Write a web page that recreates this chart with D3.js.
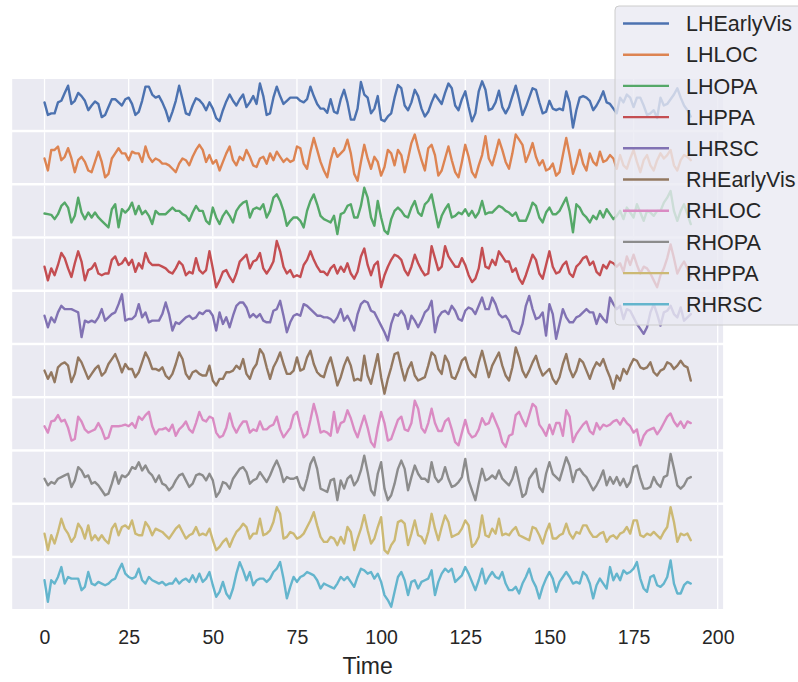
<!DOCTYPE html>
<html>
<head>
<meta charset="utf-8">
<script src="https://cdn.jsdelivr.net/npm/d3@7"></script>
<style>
  body { margin: 0; background: #fff; }
  svg text { font-family: "Liberation Sans", Arial, sans-serif; fill: #262626; }
</style>
</head>
<body>
<svg id="chart" width="798" height="682"></svg>
<script>
// region names, in plotting order
const regions = ['LHEarlyVis', 'LHLOC', 'LHOPA', 'LHPPA', 'LHRSC',
  'RHEarlyVis', 'RHLOC', 'RHOPA', 'RHPPA', 'RHRSC'];

const xTicks = [0, 25, 50, 75, 100, 125, 150, 175, 200];

// signal levels (arbitrary units, 193 time points)
const LHEarlyVis = [85,45,50,50,85,90,115,138,80,90,115,105,90,60,75,88,80,38,45,70,95,95,85,75,95,100,80,45,55,90,135,135,110,100,105,85,60,25,55,90,138,95,50,45,75,98,92,80,
  60,85,65,35,25,60,88,110,90,75,95,110,70,85,105,80,145,105,45,50,100,135,105,80,90,100,100,100,90,85,95,135,105,80,65,65,52,95,55,50,95,125,85,30,30,65,150,
  110,
  100,50,65,105,30,25,40,50,100,140,130,75,60,85,125,105,65,40,55,85,110,95,80,115,145,130,75,60,95,120,70,25,50,120,152,125,60,65,85,122,70,50,70,105,138,95,45,70,100,130,
  125,85,50,55,90,65,60,65,60,120,85,5,60,100,105,100,90,60,75,95,120,85,80,65,50,100,85,110,100,70,100,100,75,45,50,60,35,100,75,80,95,110,130,100,75,60,40];
const LHLOC = [80,45,105,105,115,75,85,110,80,40,75,85,70,45,40,70,100,70,25,35,80,95,110,95,95,75,100,95,95,70,115,85,70,80,75,65,65,60,50,40,65,80,75,60,85,105,120,105,
  70,90,65,75,45,70,95,115,75,60,85,75,105,85,60,55,80,85,65,95,75,100,85,70,80,70,75,115,110,65,50,100,140,105,70,45,25,75,110,85,95,105,135,95,35,15,70,
  120,
  80,50,85,70,30,55,105,95,60,105,90,40,80,125,150,110,75,45,110,120,90,30,45,80,115,75,40,25,70,120,85,40,25,60,90,145,80,60,95,135,105,70,50,95,150,135,120,70,95,125,
  85,60,75,45,50,65,30,40,90,140,90,35,65,105,65,45,95,70,60,100,70,75,90,80,50,90,60,50,80,105,70,40,75,90,60,45,75,95,80,90,105,60,45,75,90,85,75];
const LHOPA = [72,70,68,55,70,95,105,90,45,65,120,75,55,75,60,75,60,50,40,30,85,100,30,85,75,85,105,70,95,70,80,65,40,80,70,70,70,80,90,80,80,70,65,50,75,95,80,80,
  50,40,90,60,40,65,80,65,45,80,95,105,110,60,85,90,85,100,60,80,120,130,110,80,35,50,60,60,50,30,80,110,130,100,65,55,50,45,65,10,70,75,95,100,60,60,95,
  150,
  120,60,35,110,60,20,10,55,80,90,80,65,60,90,110,75,65,100,110,130,80,30,65,85,100,60,65,75,70,85,65,80,60,75,110,70,75,75,85,95,90,80,75,65,75,50,50,50,75,105,
  95,60,45,75,90,70,70,80,100,120,80,15,100,90,70,60,45,65,55,80,60,85,70,55,65,80,55,90,75,60,100,75,50,80,75,65,80,80,105,120,140,80,50,80,100,70,40];
const LHPPA = [75,35,70,50,80,115,100,70,45,85,120,90,35,65,70,85,55,50,55,55,95,105,80,85,100,80,95,60,85,70,115,90,80,80,80,75,70,60,55,70,90,80,50,60,55,100,65,55,
  65,120,70,15,35,60,65,45,30,55,90,100,110,70,90,95,115,70,55,70,90,150,120,75,55,65,45,50,45,80,95,120,95,75,60,60,50,70,80,55,75,60,85,55,40,60,105,
  128,
  80,50,80,90,15,50,75,95,110,105,95,65,50,75,110,85,65,50,55,135,100,65,75,135,105,90,75,75,100,80,50,30,40,70,130,75,70,95,80,120,105,90,90,60,70,40,25,50,80,110,
  95,55,40,80,120,75,55,60,80,90,55,45,75,85,100,105,80,90,60,50,80,70,90,85,75,85,60,105,80,110,80,55,75,70,55,35,15,50,70,100,140,100,55,75,90,70,45];
const LHRSC = [85,50,80,65,95,115,105,105,105,100,95,20,70,65,70,65,80,105,70,80,90,95,120,150,70,75,75,85,120,80,95,65,70,70,70,90,125,90,40,65,60,70,80,85,75,80,95,90,
  100,100,85,40,95,60,80,50,85,115,125,125,110,80,90,80,90,70,65,65,100,105,130,85,35,65,85,90,85,120,115,105,95,85,85,80,80,75,65,80,105,70,85,65,40,90,120,
  130,
  125,100,95,75,55,35,10,60,90,85,100,85,45,85,70,50,70,95,105,130,35,80,95,100,90,115,100,75,70,100,110,105,90,115,140,105,105,140,120,90,80,85,70,40,35,30,60,115,145,105,
  75,80,95,25,120,90,15,60,105,80,65,65,80,85,95,105,95,95,60,90,75,65,140,120,105,115,75,105,100,80,60,45,30,50,95,120,90,55,95,100,115,90,80,110,70,80,90];
const RHEarlyVis = [80,55,75,45,90,100,105,95,45,70,120,105,80,55,70,85,95,65,75,100,115,130,105,75,100,85,85,60,75,105,135,115,85,85,80,90,65,55,70,100,135,115,70,55,75,80,70,65,
  65,95,50,35,55,55,75,75,80,95,85,115,70,55,85,100,145,130,90,55,90,110,135,100,70,70,80,120,80,85,120,140,100,75,65,60,95,120,80,35,60,95,120,95,50,55,50,
  125,
  65,40,85,130,60,10,55,90,130,135,90,50,85,105,65,50,55,60,95,135,125,85,70,125,105,60,55,80,110,120,85,70,60,105,140,100,60,95,115,135,95,65,50,90,150,120,80,60,80,105,
  125,90,65,75,85,55,40,60,100,130,85,60,80,115,105,80,55,85,105,95,115,85,60,25,65,50,85,70,95,115,110,90,85,90,105,75,65,80,85,105,100,85,95,110,95,90,50];
const RHLOC = [72,52,87,90,107,87,92,67,27,32,102,87,62,52,57,62,82,62,32,37,72,72,72,74,77,72,82,67,102,92,107,117,72,47,62,62,67,57,77,42,62,72,87,62,52,82,117,92,
  87,102,97,52,37,42,67,112,72,52,72,87,87,52,62,57,87,62,62,72,77,102,62,37,52,67,107,117,72,37,47,92,142,102,52,57,52,42,117,52,82,87,122,97,62,37,72,
  105,
  67,22,7,67,117,82,27,32,62,92,102,62,57,82,152,127,67,52,82,127,82,57,57,87,97,62,22,12,52,92,52,37,42,62,97,77,82,112,87,62,22,7,42,47,107,117,92,72,107,142,
  132,77,62,42,77,47,82,82,42,122,102,22,47,62,77,87,57,47,82,62,77,72,77,87,92,77,97,82,72,52,62,12,42,57,62,67,47,62,82,102,112,87,72,87,67,87,82];
const RHOPA = [77,57,67,62,77,82,87,92,52,72,112,102,82,87,62,67,57,42,27,32,62,97,62,87,82,92,112,107,127,102,117,97,87,67,87,62,57,42,52,72,87,92,72,52,62,87,92,87,
  72,92,72,22,37,67,62,47,77,92,107,112,97,62,72,77,97,82,67,87,112,132,107,67,82,77,77,82,52,42,77,122,142,107,47,42,37,72,77,12,72,47,77,87,57,72,102,
  147,
  97,42,27,92,127,47,12,27,62,107,132,107,42,82,117,92,77,77,67,127,82,67,77,112,77,52,57,67,82,137,72,42,12,62,107,72,77,87,77,102,77,67,57,77,112,67,22,32,77,92,
  107,52,37,92,127,92,82,72,107,142,117,67,102,107,92,82,62,42,57,77,102,57,82,62,82,57,77,52,67,112,117,77,47,47,52,82,62,52,82,87,152,107,57,47,57,77,82];
const RHPPA = [69,19,64,39,74,114,84,69,44,59,99,84,54,94,49,64,49,64,49,39,84,99,64,89,94,84,109,69,64,64,104,89,64,84,79,74,64,54,69,84,94,74,54,64,69,89,64,69,
  64,84,49,19,29,44,54,29,54,74,84,99,89,54,69,69,114,64,69,79,104,149,129,54,59,74,69,54,59,69,89,109,134,94,59,44,44,59,54,34,59,39,89,74,19,54,84,
  125,
  79,39,54,89,119,19,9,34,49,104,109,99,34,69,109,64,59,39,74,129,84,49,89,124,104,59,64,69,84,109,94,29,39,59,124,64,59,84,69,114,64,69,64,79,89,64,59,54,49,89,
  84,64,39,74,99,54,54,64,69,99,69,54,74,69,94,94,74,59,59,69,74,44,59,64,54,69,74,89,69,109,109,64,59,69,64,74,64,54,74,89,149,104,44,69,64,69,49];
const RHRSC = [89,24,89,79,99,129,79,99,94,94,94,59,69,114,79,74,84,79,74,79,89,94,119,139,109,99,94,99,124,89,79,99,89,84,79,84,74,79,79,94,79,89,94,84,104,84,109,84,
  94,114,74,39,54,84,49,34,64,109,144,119,89,114,74,89,94,94,84,94,114,124,144,94,34,69,99,84,99,104,114,109,104,89,64,79,74,69,64,79,99,89,99,84,69,99,124,
  119,
  109,114,94,109,84,44,29,9,54,99,114,89,44,84,89,64,84,89,94,119,44,84,109,124,114,124,84,94,104,129,109,84,59,89,124,79,99,114,99,94,114,79,59,59,69,49,79,99,124,89,
  69,34,69,94,114,94,54,84,99,114,99,79,84,79,114,104,79,34,74,94,79,64,129,89,109,89,119,109,114,124,144,94,64,54,99,104,74,69,79,99,149,79,49,49,74,84,79];

const series = [LHEarlyVis, LHLOC, LHOPA, LHPPA, LHRSC, RHEarlyVis, RHLOC, RHOPA, RHPPA, RHRSC];

// seaborn "deep" palette
const colors = ['#4C72B0', '#DD8452', '#55A868', '#C44E52', '#8172B3',
  '#937860', '#DA8BC3', '#8C8C8C', '#CCB974', '#64B5CD'];

const svg = d3.select('#chart');

// shared x axis, matplotlib style 5% margins around 0..192
const x = d3.scaleLinear().domain([-9.6, 201.6]).range([12.2, 723.1]);

const panelTop = 79;
const panelH = 50.8;
const panelStep = 53.24;

const line = (yScale) => d3.line()
  .x((d, i) => x(i))
  .y((d) => yScale(d));

series.forEach((values, k) => {
  const top = panelTop + k * panelStep;
  const g = svg.append('g').attr('class', 'panel');

  // darkgrid face
  g.append('rect')
    .attr('x', x.range()[0])
    .attr('y', top)
    .attr('width', x.range()[1] - x.range()[0])
    .attr('height', panelH)
    .attr('fill', '#EAEAF2');

  // vertical white grid lines
  g.selectAll('line.grid')
    .data(xTicks)
    .join('line')
    .attr('class', 'grid')
    .attr('x1', (d) => x(d))
    .attr('x2', (d) => x(d))
    .attr('y1', top)
    .attr('y2', top + panelH)
    .attr('stroke', '#fff')
    .attr('stroke-width', 1.3);

  // each panel autoscaled on its own values
  const [lo, hi] = d3.extent(values);
  const pad = (hi - lo) * 0.05;
  const y = d3.scaleLinear().domain([lo - pad, hi + pad]).range([top + panelH, top]);

  g.append('path')
    .datum(values)
    .attr('d', line(y))
    .attr('fill', 'none')
    .attr('stroke', colors[k])
    .attr('stroke-width', 2.4)
    .attr('stroke-linejoin', 'round')
    .attr('stroke-linecap', 'round');
});

// x tick labels under the last panel
const axis = svg.append('g')
  .attr('transform', `translate(0,${panelTop + 9 * panelStep + panelH})`)
  .call(d3.axisBottom(x).tickValues(xTicks).tickSize(0).tickPadding(21).tickFormat(d3.format('d')));
axis.select('.domain').remove();
axis.selectAll('text')
  .attr('font-size', '19.5px')
  .attr('fill', '#262626')
  .style('font-family', '"Liberation Sans", Arial, sans-serif');

svg.append('text')
  .attr('x', (x.range()[0] + x.range()[1]) / 2)
  .attr('y', 674)
  .attr('text-anchor', 'middle')
  .attr('font-size', '23px')
  .text('Time');

// legend, top right, partly off the canvas
const legend = svg.append('g').attr('class', 'legend');
legend.append('rect')
  .attr('x', 615)
  .attr('y', 6)
  .attr('width', 200)
  .attr('height', 319)
  .attr('rx', 4)
  .attr('fill', '#EAEAF2')
  .attr('fill-opacity', 0.8)
  .attr('stroke', '#cccccc')
  .attr('stroke-width', 1);

const rows = legend.selectAll('g.row')
  .data(regions)
  .join('g')
  .attr('class', 'row')
  .attr('transform', (d, i) => `translate(0,${23.5 + i * 31.2})`);

rows.append('line')
  .attr('x1', 623)
  .attr('x2', 669)
  .attr('stroke', (d, i) => colors[i])
  .attr('stroke-width', 2.4);

rows.append('text')
  .attr('x', 686)
  .attr('dy', '0.36em')
  .attr('font-size', '21.5px')
  .text((d) => d);
</script>
</body>
</html>
